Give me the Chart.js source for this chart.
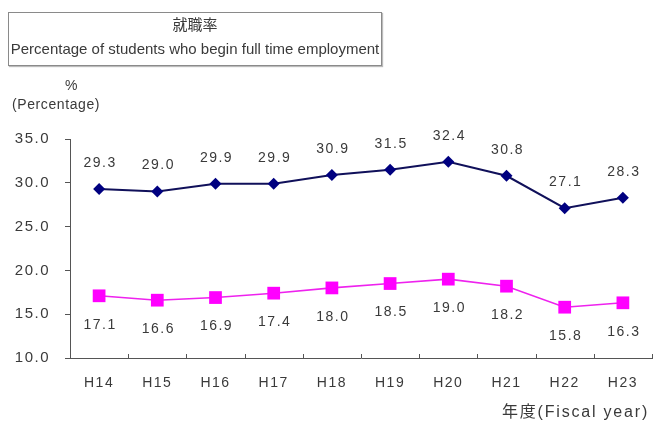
<!DOCTYPE html>
<html>
<head>
<meta charset="utf-8">
<script src="https://cdn.jsdelivr.net/npm/chart.js@4/dist/chart.umd.min.js"></script>
<style>
  body { margin: 0; background: #fff; }
  #wrap { position: relative; width: 654px; height: 423px; font-family: "Liberation Sans", Arial, sans-serif; color: #3a3a3a; }
  canvas { position: absolute; left: 0; top: 0; }
  .lbl { position: absolute; white-space: nowrap; font-size: 14px; line-height: 16px; letter-spacing: 0.6px; }
  #titleBox { position: absolute; left: 8px; top: 12px; width: 372px; height: 52px; border: 1px solid #8a8a8a;
    box-shadow: 1px 1px 1px #bbb; text-align: center; font-size: 15px; color: #3a3a3a; white-space: nowrap; }
  #titleBox div { line-height: 17px; }
  .cjk { font-family: "Noto Sans CJK JP", sans-serif; }
</style>
</head>
<body>
<div id="wrap">
  <canvas id="chartCanvas" width="654" height="423"></canvas>
  <div id="titleBox">
    <div class="cjk" style="margin-top:2px;">就職率</div>
    <div style="margin-top:8px;">Percentage of students who begin full time employment</div>
  </div>
  <div class="lbl" style="left:65px; top:77px;">%</div>
  <div class="lbl" style="left:12px; top:96px;">(Percentage)</div>
  <div class="lbl" style="left:502px; top:402px; font-size:16px; letter-spacing:1.8px;"><span class="cjk">年度</span>(Fiscal year)</div>
</div>
<script>
const years = ["H14", "H15", "H16", "H17", "H18", "H19", "H20", "H21", "H22", "H23"];
const employmentRate = [29.3, 29.0, 29.9, 29.9, 30.9, 31.5, 32.4, 30.8, 27.1, 28.3];
const secondSeries = [17.1, 16.6, 16.9, 17.4, 18.0, 18.5, 19.0, 18.2, 15.8, 16.3];
const yTicks = [10, 15, 20, 25, 30, 35];

const FONT = "'Liberation Sans', Arial, sans-serif";

// looser letter spacing, like the original
const spacing = {
    id: "spacing",
    beforeDraw(chart) { chart.ctx.letterSpacing = "1.5px"; },
};

// value labels: first series above, second below
const valueLabels = {
    id: "valueLabels",
    afterDatasetsDraw(chart) {
        const ctx = chart.ctx;
        ctx.save();
        ctx.letterSpacing = "1.5px";
        ctx.font = "14px " + FONT;
        ctx.fillStyle = "#3a3a3a";
        ctx.textAlign = "center";
        ctx.textBaseline = "middle";
        chart.data.datasets.forEach((ds, di) => {
            const meta = chart.getDatasetMeta(di);
            meta.data.forEach((pt, i) => {
                const dy = di === 0 ? -26 : 29;
                ctx.fillText(ds.data[i].toFixed(1), pt.x + 1, pt.y + dy);
            });
        });
        ctx.restore();
    }
};

// small inward ticks on the x axis between categories
const xTicksIn = {
    id: "xTicksIn",
    afterDraw(chart) {
        const x = chart.scales.x;
        const ctx = chart.ctx;
        const n = years.length;
        const step = (x.right - x.left) / n;
        ctx.save();
        ctx.strokeStyle = "#555";
        ctx.lineWidth = 1;
        ctx.beginPath();
        for (let i = 1; i <= n; i++) {
            const px = Math.round(x.left + i * step) + 0.5;
            ctx.moveTo(px, x.top);
            ctx.lineTo(px, x.top - 4);
        }
        ctx.stroke();
        ctx.restore();
    }
};

const ctx = document.getElementById("chartCanvas").getContext("2d");
new Chart(ctx, {
    type: "line",
    data: {
        labels: years,
        datasets: [
            {
                label: "就職率",
                data: employmentRate,
                borderColor: "#10105a",
                backgroundColor: "#000080",
                borderWidth: 2,
                pointStyle: "rectRot",
                pointRadius: 6,
                pointBorderWidth: 0,
                fill: false,
                tension: 0,
            },
            {
                label: "series2",
                data: secondSeries,
                borderColor: "#ee22ee",
                backgroundColor: "#ff00ff",
                borderWidth: 1.6,
                pointStyle: "rect",
                pointRadius: 9,
                pointBorderWidth: 0,
                fill: false,
                tension: 0,
            },
        ],
    },
    options: {
        responsive: false,
        animation: false,
        events: [],
        layout: { autoPadding: false, padding: { top: 139, right: 2, left: 0, bottom: 0 } },
        plugins: {
            legend: { display: false },
            title: { display: false },
            tooltip: { enabled: false },
        },
        scales: {
            x: {
                offset: true,
                grid: { display: false, drawTicks: false },
                border: { display: true, color: "#555", width: 1 },
                ticks: {
                    padding: 17,
                    color: "#3a3a3a",
                    font: { family: FONT, size: 14 },
                    maxRotation: 0,
                },
                afterFit(scale) {
                    scale.height = 65;
                    scale.paddingLeft = 0;
                    scale.paddingRight = 0;
                },
            },
            y: {
                min: 10,
                max: 35,
                afterBuildTicks(scale) { scale.ticks = yTicks.map(v => ({ value: v })); },
                grid: { drawOnChartArea: false, drawTicks: true, tickLength: 5, color: "#555" },
                border: { display: true, color: "#555", width: 1 },
                ticks: {
                    padding: 15,
                    color: "#3a3a3a",
                    font: { family: FONT, size: 15 },
                    callback: v => Number(v).toFixed(1),
                },
                afterFit(scale) { scale.width = 70; },
            },
        },
    },
    plugins: [spacing, valueLabels, xTicksIn],
});
</script>
</body>
</html>
